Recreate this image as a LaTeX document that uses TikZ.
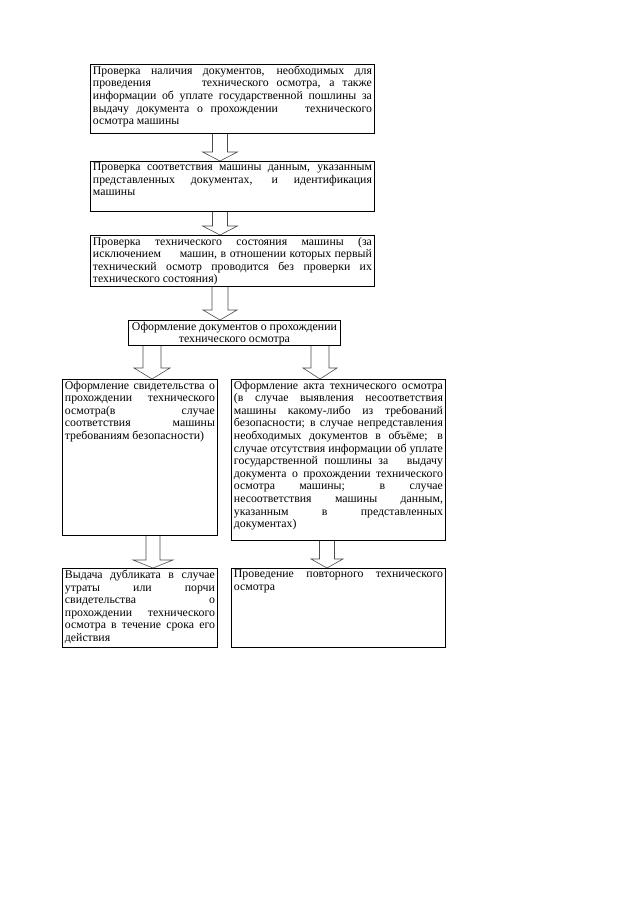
\documentclass[tikz,border=0pt]{standalone}
\usepackage{fontspec}
\setmainfont{Liberation Serif}
\usetikzlibrary{calc}
\tikzset{
  box/.style={draw=black, line width=0.9pt, anchor=north west, inner xsep=2.5pt, inner ysep=1.5pt, fill=white},
  arr/.style={draw=black!70, line width=0.6pt, line join=miter}
}
\newcommand\mptext[3]{\begin{minipage}[t][#2pt][t]{#1pt}\fontsize{11.8}{12.6}\selectfont #3\end{minipage}}
\newcommand\mpcenter[3]{\begin{minipage}[t][#2pt][t]{#1pt}\centering\fontsize{11.8}{12.6}\selectfont #3\end{minipage}}
% from, to, x center, shaft half width, head half width, head height
\newcommand\blockarr[6]{%
  \coordinate (ax) at (#3,0);
  \draw[arr] ($(ax |- #1.south)+(-#4,0)$) -- ($(ax |- #2.north)+(-#4,-#6)$)
    -- ($(ax |- #2.north)+(-#5,-#6)$) -- (ax |- #2.north)
    -- ($(ax |- #2.north)+(#5,-#6)$) -- ($(ax |- #2.north)+(#4,-#6)$)
    -- ($(ax |- #1.south)+(#4,0)$);
}
\begin{document}
\begin{tikzpicture}[x=1pt,y=-1pt]
\useasboundingbox[fill=white] (0,0) rectangle (640,905);

\node[box] (b1) at (90,64) {\mptext{279}{66}{Проверка наличия документов, необходимых для\linebreak
проведения \hspace{3em} технического осмотра, а также\linebreak
информации об уплате государственной пошлины за\linebreak
выдачу документа о прохождении \hspace{1em} технического\linebreak
осмотра машины}};

\node[box] (b2) at (90,161) {\mptext{279}{47}{Проверка соответствия машины данным, указанным\linebreak
представленных документах, и идентификация\linebreak
машины}};

\node[box] (b3) at (90,235) {\mptext{279}{48}{Проверка технического состояния машины (за\linebreak
исключением \hspace{1em} машин, в отношении которых первый\linebreak
технический осмотр проводится без проверки их\linebreak
технического состояния)}};

\node[box] (b4) at (128,320) {\mpcenter{207}{22}{Оформление документов о прохождении\\
технического осмотра}};

\node[box] (l1) at (62,379) {\mptext{150}{153}{Оформление свидетельства о\linebreak
прохождении технического\linebreak
осмотра(в случае\linebreak
соответствия машины\linebreak
требованиям безопасности)}};

\node[box] (r1) at (231,379) {\mptext{209}{158}{Оформление акта технического осмотра\linebreak
(в случае выявления несоответствия\linebreak
машины какому-либо из требований\linebreak
безопасности; в случае непредставления\linebreak
необходимых документов в объёме; в\linebreak
случае отсутствия информации об уплате\linebreak
государственной пошлины за \hspace{0.5em} выдачу\linebreak
документа о прохождении технического\linebreak
осмотра машины; в случае\linebreak
несоответствия машины данным,\linebreak
указанным в представленных\linebreak
документах)}};

\node[box] (l2) at (62,568) {\mptext{150}{76}{Выдача дубликата в случае\linebreak
утраты или порчи\linebreak
свидетельства о\linebreak
прохождении технического\linebreak
осмотра в течение срока его\linebreak
действия}};

\node[box] (r2) at (231,568) {\mptext{209}{76}{Проведение повторного технического\linebreak
осмотра}};

\blockarr{b1}{b2}{220}{7.5}{17.5}{9}
\blockarr{b2}{b3}{220}{7.5}{17.5}{9}
\blockarr{b3}{b4}{220}{8}{17}{10}
\blockarr{b4}{l1}{152}{9}{18}{11}
\blockarr{b4}{r1}{320}{9}{17}{11}
\blockarr{l1}{l2}{153}{7}{20}{8}
\blockarr{r1}{r2}{327}{7.5}{16}{9}
\end{tikzpicture}
\end{document}
